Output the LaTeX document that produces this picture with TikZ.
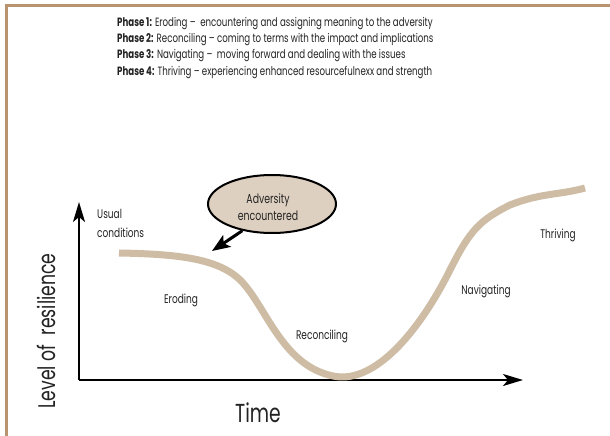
\documentclass[tikz,border=0pt]{standalone}
\usepackage{fontspec}
\setmainfont{Poppins}[FakeStretch=0.72]
\usetikzlibrary{arrows.meta,shapes.geometric}
\definecolor{framec}{RGB}{184,149,110}
\definecolor{curvec}{RGB}{206,188,165}
\definecolor{ellc}{RGB}{222,208,192}
\definecolor{txt}{RGB}{35,35,35}
\begin{document}
\begin{tikzpicture}[x=1pt,y=-1pt,
  phase/.style={anchor=base west,inner sep=0,text=txt,font=\fontsize{12}{14}\selectfont},
  lab/.style={inner sep=0,text=txt,font=\fontsize{12.5}{19}\selectfont,align=left},
  axis/.style={line width=2pt,-{Stealth[length=20pt,width=12pt,inset=5pt]}},
  big/.style={inner sep=0,text=txt,font=\fontsize{26}{28}\selectfont}]
\useasboundingbox (0,0) rectangle (610,436);
\fill[white] (0,0) rectangle (610,436);
% frame
\draw[framec,line width=3pt] (6,436) -- (6,6) -- (610,6);
% phase list
\node[phase] (p1) at (117,27) {\textbf{Phase 1:} Eroding --\ \ encountering and assigning meaning to the adversity};
\node[phase] (p2) at (117,43) {\textbf{Phase 2:} Reconciling -- coming to terms with the impact and implications};
\node[phase] (p3) at (117,59) {\textbf{Phase 3:} Navigating --\ \ moving forward and dealing with the issues};
\node[phase] (p4) at (117,75) {\textbf{Phase 4:} Thriving -- experiencing enhanced resourcefulnexx and strength};
% axes
\coordinate (o) at (79,380);
\coordinate (ytop) at (79,202);
\coordinate (xend) at (523,380);
\draw[axis] (o) -- (ytop);
\draw[axis] (o) -- (xend);
% curve
\draw[curvec,line width=7pt] (119,253) .. controls (175,254) and (215,258) .. (238,278)
  .. controls (265,302) and (280,365) .. (333,376)
  .. controls (375,385) and (420,330) .. (450,270)
  .. controls (470,230) and (480,220) .. (510,205)
  .. controls (540,193) and (560,195) .. (585,188);
% labels
\node[lab,anchor=west] (usual) at (97,223) {Usual\\conditions};
\node[lab] (eroding) at (181,300) {Eroding};
\node[lab] (recon) at (322,336) {Reconciling};
\node[lab] (navig) at (486,291) {Navigating};
\node[lab] (thriv) at (558,235) {Thriving};
% adversity
\node[ellipse,draw=black,line width=2pt,fill=ellc,minimum width=128pt,minimum height=58pt,inner sep=0] (adv) at (272,204) {};
\node[lab,align=center,font=\fontsize{13}{17}\selectfont] (advt) at (268,207) {Adversity\\encountered};
\coordinate (tip) at (212,251);
\draw[line width=3pt,-{Stealth[length=18pt,width=14pt,inset=4pt]}] (adv.222) -- (tip);
% axis titles
\node[big] (time) at (258,413) {Time};
\node[big,rotate=90,font=\fontsize{24}{26}\selectfont] (level) at (46,331) {Level of\ \ resilience};
\end{tikzpicture}
\end{document}
